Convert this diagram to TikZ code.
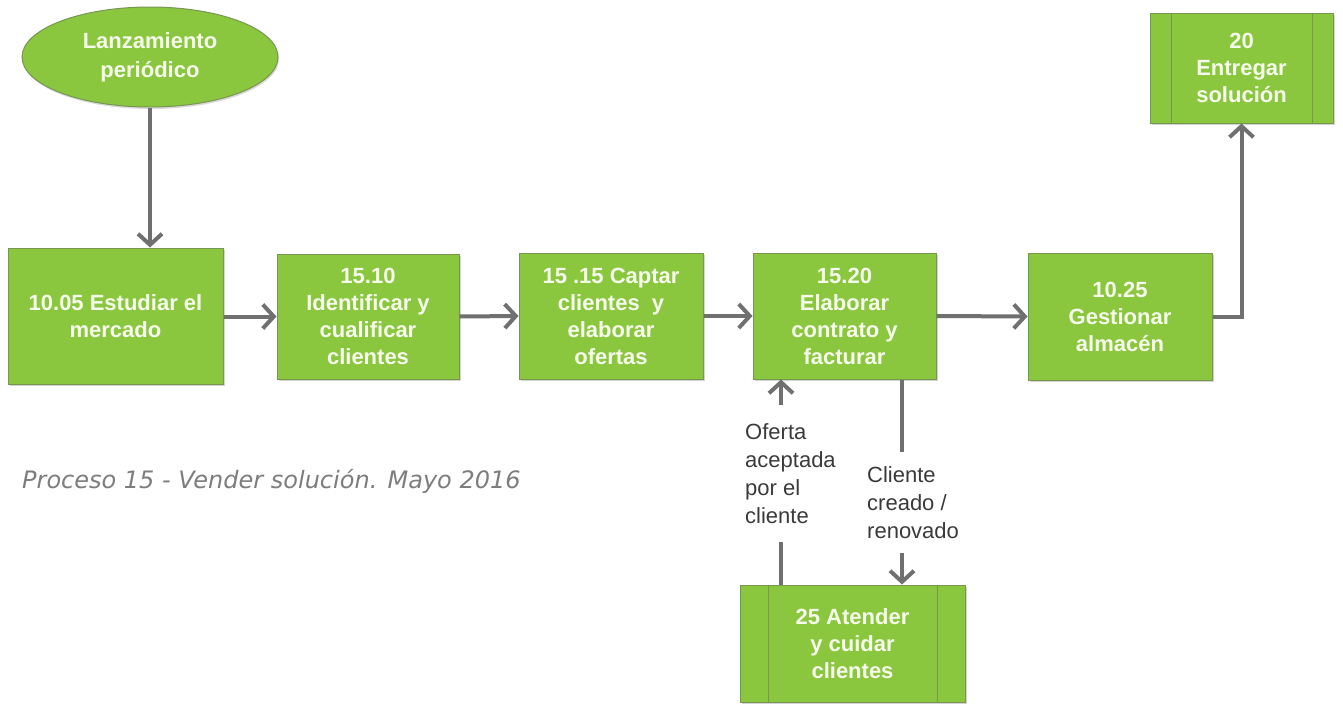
\documentclass[tikz,border=0pt]{standalone}
\usepackage{fontspec}
\setmainfont{Liberation Sans}
\newfontfamily\titlefont{DejaVu Sans}
\usetikzlibrary{arrows.meta,shapes.geometric,shadows,calc}
\definecolor{boxgreen}{RGB}{139,198,63}
\definecolor{boxedge}{RGB}{118,150,82}
\definecolor{boxtext}{RGB}{246,252,236}
\definecolor{conngray}{RGB}{112,112,112}
\definecolor{labelgray}{RGB}{58,58,58}
\definecolor{titlegray}{RGB}{125,125,125}
\tikzset{
  procbox/.style={rectangle, fill=boxgreen, draw=boxedge, line width=1pt,
    text=boxtext, align=center, inner sep=2pt,
    font=\fontsize{22}{27}\selectfont\bfseries,
    drop shadow={shadow xshift=1.5pt, shadow yshift=-2pt, opacity=0.35, fill=gray}},
  startnode/.style={ellipse, fill=boxgreen, draw=boxedge, line width=1pt,
    text=boxtext, align=center, inner sep=0pt,
    font=\fontsize{22}{30}\selectfont\bfseries,
    drop shadow={shadow xshift=1pt, shadow yshift=-2pt, opacity=0.3, fill=gray}},
  conn/.style={draw=conngray, line width=4pt},
  arr/.style={conn, -{Straight Barb[length=11pt,width=24pt,line width=4pt]}},
  flowlabel/.style={text=labelgray, align=left, inner xsep=4pt,
    font=\fontsize{22}{28}\selectfont},
  sidebar/.style={draw=boxedge, line width=1pt}
}
\begin{document}
\begin{tikzpicture}[x=1pt,y=-1pt]
\useasboundingbox (0,0) rectangle (1343,704);

% start
\node[startnode, minimum width=256pt, minimum height=100pt] (L) at (150,57)
  {\raisebox{-12pt}{\shortstack{Lanzamiento\\[10pt]periódico}}};

% main row
\node[procbox, minimum width=215pt, minimum height=136pt] (A) at (115.5,316)
  {10.05 Estudiar el\\mercado};
\node[procbox, minimum width=182pt, minimum height=125pt] (B) at (368,316.5)
  {15.10\\Identificar y\\cualificar\\clientes};
\node[procbox, minimum width=184pt, minimum height=126pt] (C) at (611,316)
  {15 .15 Captar\\clientes \ y\\elaborar\\ofertas};
\node[procbox, minimum width=183pt, minimum height=126pt] (D) at (844.5,316)
  {15.20\\Elaborar\\contrato y\\facturar};
\node[procbox, minimum width=184pt, minimum height=127pt] (E) at (1120,316.5)
  {10.25\\Gestionar\\almacén};

% predefined processes
\node[procbox, minimum width=183pt, minimum height=110pt] (F) at (1241.5,68)
  {20\\Entregar\\solución};
\draw[sidebar] ([xshift=22pt]F.north west) -- ([xshift=22pt]F.south west);
\draw[sidebar] ([xshift=-21pt]F.north east) -- ([xshift=-21pt]F.south east);

\node[procbox, minimum width=225pt, minimum height=117pt] (G) at (852.5,643.5)
  {25 Atender\\y cuidar\\clientes};
\draw[sidebar] ([xshift=29pt]G.north west) -- ([xshift=29pt]G.south west);
\draw[sidebar] ([xshift=-28pt]G.north east) -- ([xshift=-28pt]G.south east);

% labels
\node[flowlabel, inner ysep=18pt, anchor=north west] (olab) at (741,405)
  {Oferta\\aceptada\\por el\\cliente};
\node[flowlabel, inner ysep=14pt, anchor=north west] (clab) at (863,452)
  {Cliente\\creado /\\renovado};
\coordinate (ux) at (781,0);
\coordinate (dx) at (902,0);

% title
\node[anchor=base west, inner sep=0pt, text=titlegray,
  font=\titlefont\itshape\fontsize{24}{28}\selectfont] (T) at (22,488)
  {Proceso 15 - Vender solución. Mayo 2016};

% connectors
\draw[arr] (L.south) -- (L.south |- A.north);
\draw[arr] (A.east |- B.west) -- (B.west);
\draw[arr] (B.east) -- (C.west);
\draw[arr] (C.east) -- (D.west);
\draw[arr] (D.east) -- (E.west);
\draw[arr] (E.east) -| (F.south);
\draw[conn] (G.north -| ux) -- (olab.south -| ux);
\draw[arr] (olab.north -| ux) -- (D.south -| ux);
\draw[conn] (D.south -| dx) -- (clab.north -| dx);
\draw[arr] (clab.south -| dx) -- (G.north -| dx);
\end{tikzpicture}
\end{document}
